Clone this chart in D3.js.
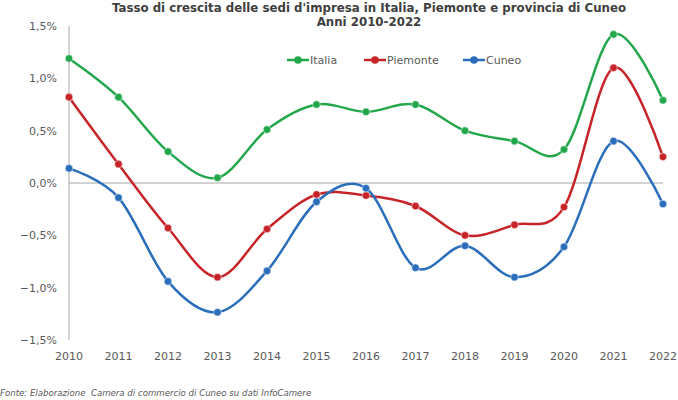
<!DOCTYPE html>
<html>
<head>
<meta charset="utf-8">
<script src="https://cdn.jsdelivr.net/npm/d3@7"></script>
<style>
  body { margin: 0; background: #fff; }
  text { font-family: "DejaVu Sans", Verdana, sans-serif; }
</style>
</head>
<body>
<div id="chart"></div>
<script>
const years = [2010, 2011, 2012, 2013, 2014, 2015, 2016, 2017, 2018, 2019, 2020, 2021, 2022]
const italia = [1.19, 0.82, 0.30, 0.05, 0.51, 0.75, 0.68, 0.75, 0.50, 0.40, 0.32, 1.42, 0.79]
const piemonte = [0.82, 0.18, -0.43, -0.90, -0.44, -0.11, -0.12, -0.22, -0.50, -0.40, -0.23, 1.10, 0.25]
const cuneo = [0.14, -0.14, -0.94, -1.235, -0.84, -0.18, -0.05, -0.81, -0.60, -0.90, -0.61, 0.40, -0.20]
const yTicks = [-1.5, -1.0, -0.5, 0, 0.5, 1.0, 1.5]

const series = [
  { name: "Italia", values: italia, color: "#22a74b" },
  { name: "Piemonte", values: piemonte, color: "#c7242a" },
  { name: "Cuneo", values: cuneo, color: "#2a6ebb" }
]

const W = 678, H = 400
const svg = d3.select("#chart").append("svg")
  .attr("width", W)
  .attr("height", H)

const x = d3.scalePoint()
  .domain(years)
  .range([69, 663])

const y = d3.scaleLinear()
  .domain([-1.5, 1.5])
  .range([340, 26])

const fmt = v => d3.format(".1f")(v).replace(".", ",") + "%"

// y axis labels
svg.append("g")
  .selectAll("text")
  .data(yTicks)
  .join("text")
    .attr("x", 57)
    .attr("y", d => y(d))
    .attr("dy", "0.35em")
    .attr("text-anchor", "end")
    .attr("font-size", 11)
    .attr("fill", "#595959")
    .text(fmt)

// x labels
svg.append("g")
  .selectAll("text")
  .data(years)
  .join("text")
    .attr("x", d => x(d))
    .attr("y", 356)
    .attr("dy", "0.35em")
    .attr("text-anchor", "middle")
    .attr("font-size", 11)
    .attr("fill", "#595959")
    .text(d => d)

// axes lines
svg.append("line")
  .attr("x1", x(2010)).attr("x2", x(2010))
  .attr("y1", y(1.5)).attr("y2", y(-1.5))
  .attr("stroke", "#a6a6a6")
svg.append("line")
  .attr("x1", x(2010)).attr("x2", x(2022))
  .attr("y1", y(0)).attr("y2", y(0))
  .attr("stroke", "#a6a6a6")

const line = d3.line()
  .x((d, i) => x(years[i]))
  .y(d => y(d))
  .curve(d3.curveCardinal.tension(0))

series.forEach(s => {
  svg.append("path")
    .datum(s.values)
    .attr("d", line)
    .attr("fill", "none")
    .attr("stroke", s.color)
    .attr("stroke-width", 2.5)
  svg.append("g")
    .selectAll("circle")
    .data(s.values)
    .join("circle")
      .attr("cx", (d, i) => x(years[i]))
      .attr("cy", d => y(d))
      .attr("r", 3.8)
      .attr("fill", s.color)
      .attr("stroke", "#ffffff")
      .attr("stroke-opacity", 0.5)
      .attr("stroke-width", 1)
})

// title
svg.append("text")
  .attr("x", 369).attr("y", 8)
  .attr("dy", "0.35em")
  .attr("text-anchor", "middle")
  .attr("font-size", 11.8)
  .attr("font-weight", "bold")
  .attr("fill", "#404040")
  .text("Tasso di crescita delle sedi d'impresa in Italia, Piemonte e provincia di Cuneo")
svg.append("text")
  .attr("x", 369).attr("y", 22)
  .attr("dy", "0.35em")
  .attr("text-anchor", "middle")
  .attr("font-size", 11.8)
  .attr("font-weight", "bold")
  .attr("fill", "#404040")
  .text("Anni 2010-2022")

// legend
const legX = [287, 364, 463]
const leg = svg.append("g")
  .selectAll("g")
  .data(series)
  .join("g")
    .attr("transform", (d, i) => `translate(${legX[i]},60)`)
leg.append("line")
  .attr("x1", 0).attr("x2", 22)
  .attr("stroke", d => d.color)
  .attr("stroke-width", 2.5)
leg.append("circle")
  .attr("cx", 11).attr("r", 3.8)
  .attr("fill", d => d.color)
leg.append("text")
  .attr("x", 23)
  .attr("dy", "0.35em")
  .attr("font-size", 11)
  .attr("fill", "#595959")
  .text(d => d.name)

// footer
svg.append("text")
  .attr("x", 0).attr("y", 396)
  .attr("font-size", 8.6)
  .attr("font-style", "italic")
  .attr("fill", "#595959")
  .attr("xml:space", "preserve")
  .text("Fonte: Elaborazione  Camera di commercio di Cuneo su dati InfoCamere")
</script>
</body>
</html>
